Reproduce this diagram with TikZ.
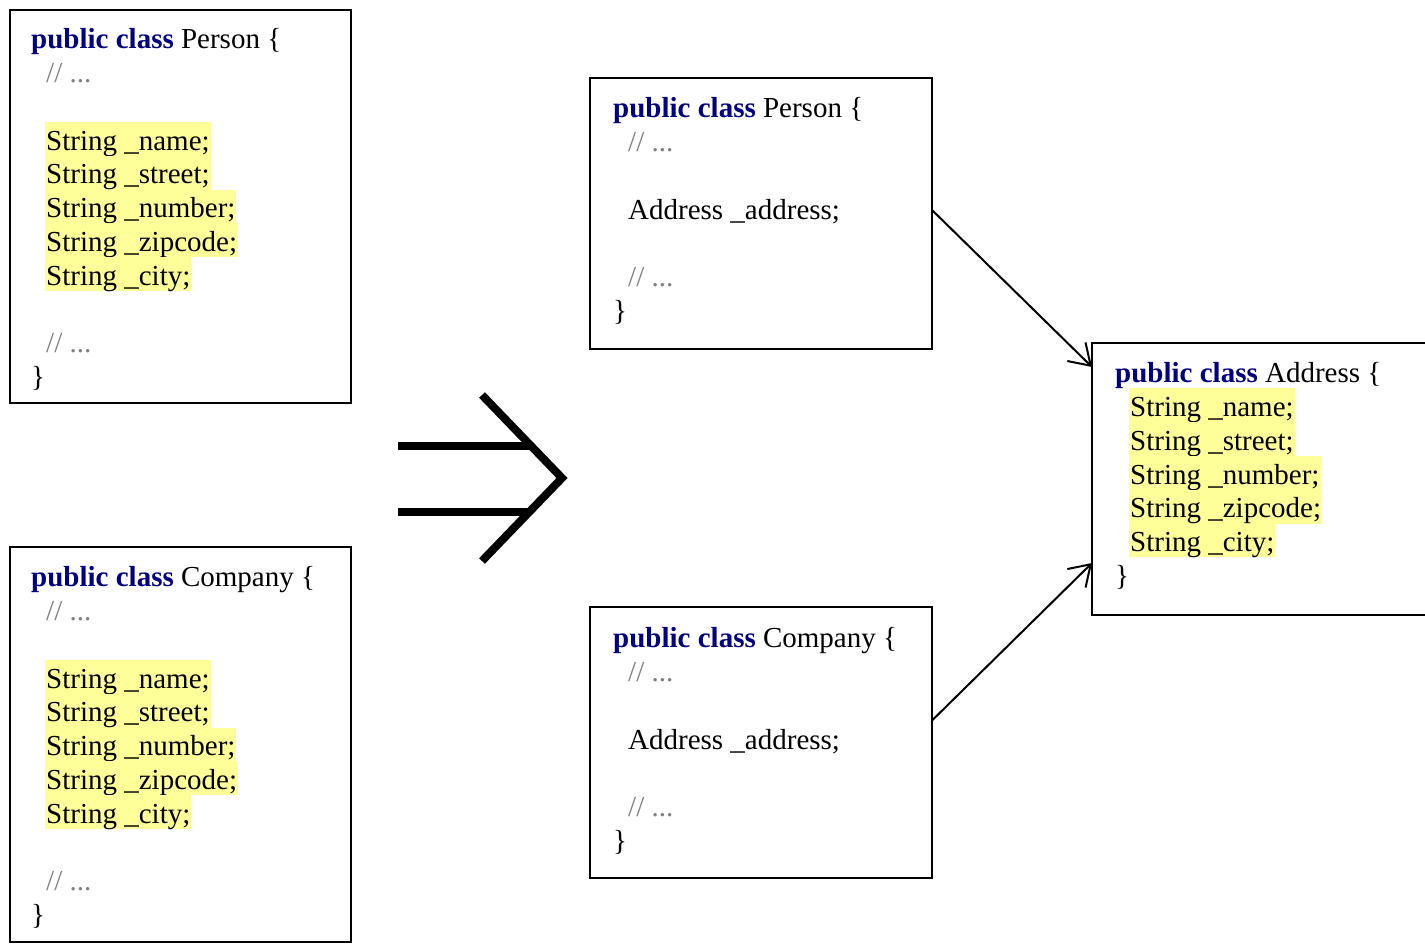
\documentclass[tikz,border=0pt]{standalone}
\usepackage{fontspec}
\setmainfont{Liberation Serif}
\usetikzlibrary{arrows.meta,calc}
\definecolor{kwblue}{RGB}{0,0,128}
\definecolor{hlyellow}{RGB}{255,255,153}
\definecolor{cmtgray}{RGB}{128,128,128}
\newcommand{\kwd}[1]{{\color{kwblue}\bfseries #1}}
\tikzset{
  codebox/.style={draw, line width=2.5pt, inner sep=0pt, outer sep=0pt, anchor=north west},
  ln/.style={inner sep=0pt, anchor=base west},
  hl/.style={ln, fill=hlyellow, inner xsep=1pt, text height=28pt, text depth=5.8pt},
  cmt/.style={ln, text=cmtgray},
  conn/.style={line width=2pt, -{Straight Barb[length=20pt,width=26pt,line width=2pt]}},
  bigarrow/.style={line width=8pt, line cap=butt, line join=miter}
}
\begin{document}
\begin{tikzpicture}[x=1pt,y=-1pt,font=\fontsize{29pt}{33.8pt}\selectfont]
\useasboundingbox (0,0) rectangle (1425,945);
% boxes
\node[codebox, minimum width=341pt, minimum height=393pt] (boxA) at (10,10) {};
\node[codebox, minimum width=341pt, minimum height=395pt] (boxB) at (10,547) {};
\node[codebox, minimum width=342pt, minimum height=271pt] (boxC) at (590,78) {};
\node[codebox, minimum width=342pt, minimum height=271pt] (boxD) at (590,607) {};
\node[codebox, minimum width=348pt, minimum height=272pt] (boxE) at (1092,343) {};
% box A
\node[ln] (a1) at (31,48.6) {\kwd{public class} Person \{};
\node[cmt] (a2) at (46,82.4) {// ...};
\node[hl] (a3) at (45,150) {String \_name;};
\node[hl] (a4) at (45,183.8) {String \_street;};
\node[hl] (a5) at (45,217.6) {String \_number;};
\node[hl] (a6) at (45,251.4) {String \_zipcode;};
\node[hl] (a7) at (45,285.2) {String \_city;};
\node[cmt] (a8) at (46,352.8) {// ...};
\node[ln] (a9) at (31,386.6) {\}};
% box B
\node[ln] (b1) at (31,586.6) {\kwd{public class} Company \{};
\node[cmt] (b2) at (46,620.4) {// ...};
\node[hl] (b3) at (45,688) {String \_name;};
\node[hl] (b4) at (45,721.8) {String \_street;};
\node[hl] (b5) at (45,755.6) {String \_number;};
\node[hl] (b6) at (45,789.4) {String \_zipcode;};
\node[hl] (b7) at (45,823.2) {String \_city;};
\node[cmt] (b8) at (46,890.8) {// ...};
\node[ln] (b9) at (31,924.6) {\}};
% box C
\node[ln] (c1) at (613,117.6) {\kwd{public class} Person \{};
\node[cmt] (c2) at (628,151.4) {// ...};
\node[ln] (c3) at (628,219) {Address \_address;};
\node[cmt] (c4) at (628,286.6) {// ...};
\node[ln] (c5) at (613,320.4) {\}};
% box D
\node[ln] (d1) at (613,647.6) {\kwd{public class} Company \{};
\node[cmt] (d2) at (628,681.4) {// ...};
\node[ln] (d3) at (628,749) {Address \_address;};
\node[cmt] (d4) at (628,816.6) {// ...};
\node[ln] (d5) at (613,850.4) {\}};
% box E
\node[ln] (e1) at (1115,382.6) {\kwd{public class} Address \{};
\node[hl] (e2) at (1129,416.4) {String \_name;};
\node[hl] (e3) at (1129,450.2) {String \_street;};
\node[hl] (e4) at (1129,484) {String \_number;};
\node[hl] (e5) at (1129,517.8) {String \_zipcode;};
\node[hl] (e6) at (1129,551.6) {String \_city;};
\node[ln] (e7) at (1115,585.4) {\}};
% connectors
\coordinate (cOut) at ($(boxC.east)+(0,-3.5)$);
\coordinate (dOut) at ($(boxD.east)+(0,-22)$);
\coordinate (eIn1) at ($(boxE.north west)+(0,24)$);
\coordinate (eIn2) at ($(boxE.south west)+(0,-52)$);
\draw[conn] (cOut) -- (eIn1);
\draw[conn] (dOut) -- (eIn2);
% big arrow
\draw[bigarrow] (398,445.5) -- (530,445.5);
\draw[bigarrow] (398,512) -- (529,512);
\draw[bigarrow] (482,395) -- (562,478) -- (482,561);
\end{tikzpicture}
\end{document}
